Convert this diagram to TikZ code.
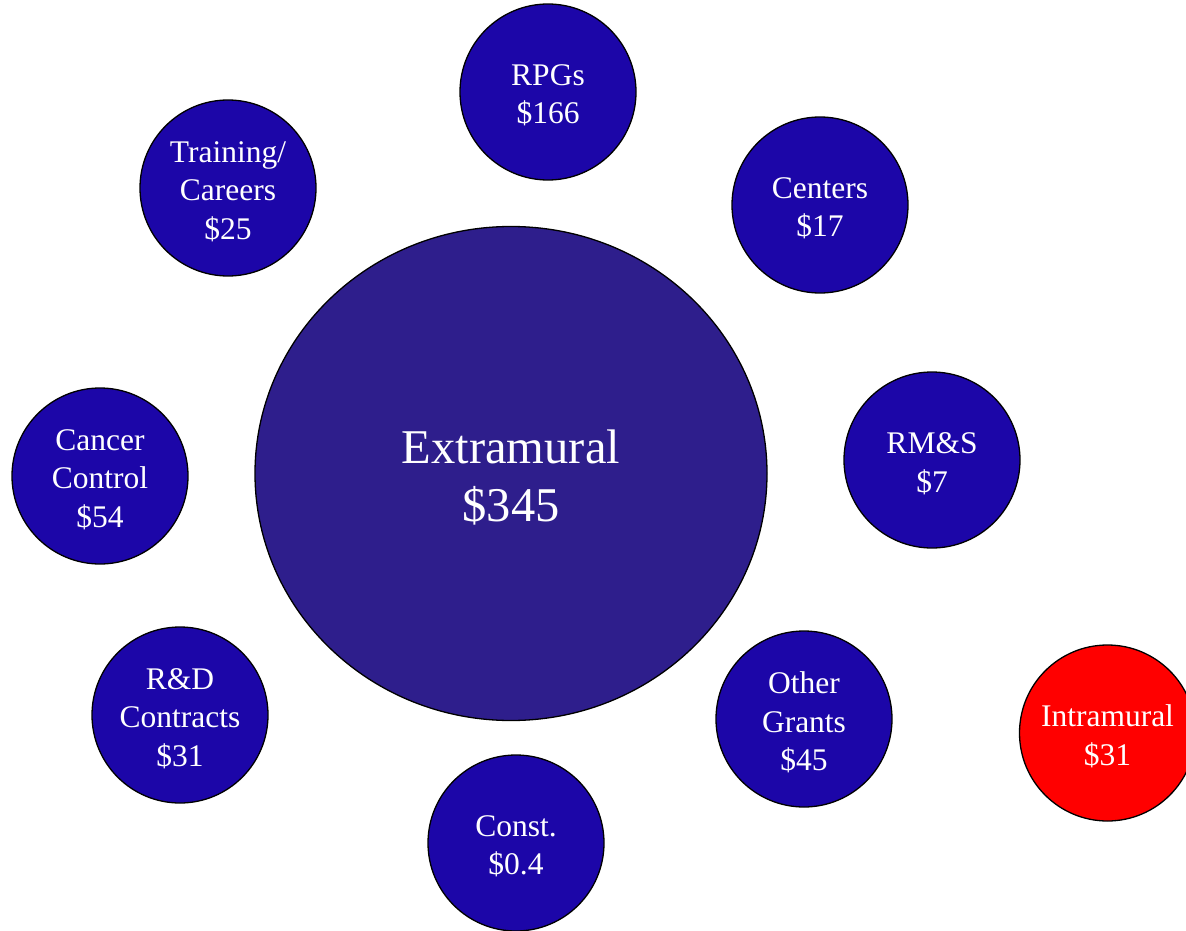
\documentclass[tikz,border=0pt]{standalone}
\usepackage{fontspec}
\setmainfont{Liberation Serif}
\usetikzlibrary{shapes.geometric}
\definecolor{smallblue}{HTML}{1C06A8}
\definecolor{bigblue}{HTML}{2E1E8C}
\definecolor{redfill}{HTML}{FF0000}
\tikzset{
  bubble/.style={circle, draw=black, line width=1.3pt, fill=smallblue,
    minimum size=176pt, inner sep=0pt},
  redbubble/.style={bubble, fill=redfill},
  bubtext/.style={text=white, align=center, inner sep=0pt, yshift=-3.5pt,
    font=\fontsize{31.5}{38.5}\selectfont},
  bigbubble/.style={ellipse, draw=black, line width=1.3pt, fill=bigblue,
    minimum width=512pt, minimum height=494pt, inner sep=0pt},
  bigtext/.style={text=white, align=center, inner sep=0pt, yshift=-4pt,
    font=\fontsize{48.5}{58}\selectfont}
}
\begin{document}
\begin{tikzpicture}[x=1pt,y=-1pt]
\useasboundingbox (0,0) rectangle (1186,931);
\clip (0,0) rectangle (1186,931);
\node[bigbubble, label={[bigtext, name=extratext]center:Extramural\\\$345}] (extra) at (511,473.5) {};
\node[bubble, label={[bubtext, name=rpgtext]center:RPGs\\\$166}] (rpg) at (548,92) {};
\node[bubble, label={[bubtext, name=traintext]center:Training/\\Careers\\\$25}] (train) at (228,188) {};
\node[bubble, label={[bubtext, name=centerstext]center:Centers\\\$17}] (centers) at (820,205) {};
\node[bubble, label={[bubtext, name=cancertext]center:Cancer\\Control\\\$54}] (cancer) at (100,476) {};
\node[bubble, label={[bubtext, name=rmstext]center:RM\&S\\\$7}] (rms) at (932,460) {};
\node[bubble, label={[bubtext, name=rdtext]center:R\&D\\Contracts\\\$31}] (rd) at (180,715) {};
\node[bubble, label={[bubtext, name=othertext]center:Other\\Grants\\\$45}] (other) at (804,719) {};
\node[bubble, label={[bubtext, name=consttext]center:Const.\\\$0.4}] (const) at (516,843) {};
\node[redbubble, label={[bubtext, name=intratext]center:Intramural\\\$31}] (intra) at (1107.5,733) {};
\end{tikzpicture}
\end{document}
